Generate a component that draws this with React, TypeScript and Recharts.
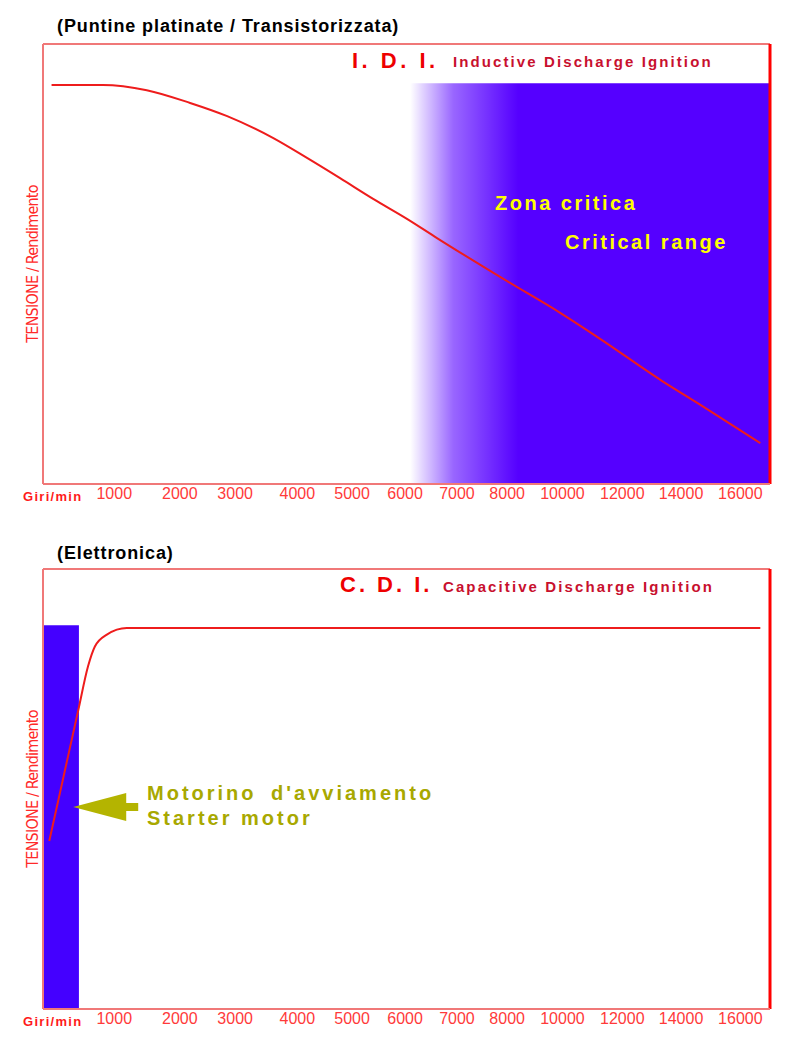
import React from 'react';
import {
  LineChart,
  Line,
  XAxis,
  YAxis,
  ReferenceArea,
  ReferenceLine,
  ReferenceDot,
} from 'recharts';

// x is the position on the (non linear) rpm scale, y is relative voltage / efficiency (0-100)
const tickPositions = [1.25, 2.4, 3.37, 4.46, 5.42, 6.35, 7.26, 8.14, 9.11, 10.16, 11.19, 12.23];
const tickLabels = ['1000', '2000', '3000', '4000', '5000', '6000', '7000', '8000', '10000', '12000', '14000', '16000'];

const idiX = [0.15, 1.05, 1.82, 2.58, 3.23, 4.04, 4.63, 5.21, 5.79, 6.39, 6.91, 8.14, 9.07, 9.77, 10.86, 11.53, 12.58];
const idiY = [90.7, 90.7, 89.5, 86.6, 83.6, 78.6, 74.1, 69.5, 64.8, 60.2, 55.9, 46.1, 38.9, 33.0, 23.4, 18.0, 9.3];

const cdiX = [0.11, 0.36, 0.62, 0.79, 0.91, 1.12, 1.47, 12.58];
const cdiY = [38.2, 52.8, 68.0, 77.9, 82.4, 85.1, 86.6, 86.6];

const criticalRange = [6.44, 12.75];
const criticalTop = 91.1;
const starterRange = [0, 0.63];
const starterTop = 87.2;
const starterArrow = { x: 0.53, y: 45.9 };

const idiData = idiX.map((x, i) => ({ x, v: idiY[i] }));
const cdiData = cdiX.map((x, i) => ({ x, v: cdiY[i] }));

const FONT = '"Liberation Sans", Arial, Helvetica, sans-serif';
const NARROW = '"Liberation Sans Narrow", "DejaVu Sans Condensed", sans-serif';
const X_MAX = 12.75;
const W = 800;
const H = 510;
const margin = { top: 44, right: 30, left: 22, bottom: 2 };

const tickFmt = (v: number) => {
  const i = tickPositions.indexOf(v);
  return i >= 0 ? tickLabels[i] : '';
};

const renderXAxis = () => (
  <XAxis
    type="number"
    dataKey="x"
    domain={[0, X_MAX]}
    ticks={tickPositions}
    interval={0}
    tickFormatter={tickFmt}
    tickLine={false}
    tickSize={0}
    tickMargin={4}
    height={24}
    axisLine={{ stroke: '#f07878', strokeWidth: 2 }}
    tick={{ fill: '#ff3a3a', fontSize: 16, fontFamily: FONT }}
    label={{
      value: 'Giri/min',
      position: 'insideLeft',
      offset: -20,
      fill: '#ff1a1a',
      fontSize: 13,
      fontWeight: 'bold',
      fontFamily: FONT,
      letterSpacing: 1.3,
    }}
  />
);

const renderYAxis = () => (
  <YAxis
    type="number"
    domain={[0, 100]}
    width={21}
    tick={false}
    axisLine={false}
    tickLine={false}
    label={{
      value: 'TENSIONE / Rendimento',
      angle: -90,
      position: 'center',
      fill: '#ff2a2a',
      fontSize: 16,
      letterSpacing: -0.8,
      fontFamily: NARROW,
    }}
  />
);

const renderFrame = () => [
  <ReferenceLine key="t" y={100} stroke="#f07878" strokeWidth={2} />,
  <ReferenceLine key="l" x={0} stroke="#f07878" strokeWidth={2} />,
  <ReferenceLine key="r" x={X_MAX} stroke="#ff0000" strokeWidth={3} />,
];

const titleStyle: React.CSSProperties = {
  position: 'absolute',
  left: 57,
  fontSize: 18,
  letterSpacing: 0.9,
  fontWeight: 'bold',
  color: '#000',
  whiteSpace: 'nowrap',
};

function App() {
  return (
    <div style={{ position: 'absolute', left: 0, top: 0, width: 800, height: 1038, background: '#fff', fontFamily: FONT }}>
      {/* I.D.I. chart */}
      <div style={{ position: 'absolute', left: 0, top: 0 }}>
        <LineChart width={W} height={H} margin={margin}>
          <defs>
            <linearGradient id="critGrad" x1="0" y1="0" x2="1" y2="0">
              <stop offset="0%" stopColor="#5500ff" stopOpacity={0} />
              <stop offset="12%" stopColor="#5500ff" stopOpacity={0.6} />
              <stop offset="30%" stopColor="#5500ff" stopOpacity={1} />
              <stop offset="100%" stopColor="#5500ff" stopOpacity={1} />
            </linearGradient>
          </defs>
          {renderXAxis()}
          {renderYAxis()}
          <ReferenceArea
            x1={criticalRange[0]}
            x2={criticalRange[1]}
            y1={0}
            y2={criticalTop}
            fill="url(#critGrad)"
            fillOpacity={1}
            stroke="none"
          />
          {renderFrame()}
          <Line
            data={idiData}
            dataKey="v"
            type="monotone"
            stroke="#ee1c1c"
            strokeWidth={2}
            dot={false}
            isAnimationActive={false}
          />
          <text x={352} y={68} fill="#ee0000" fontSize={22} fontWeight="bold" fontFamily={FONT} letterSpacing={3.5}>
            I. D. I.
          </text>
          <text x={453} y={67} fill="#c8102e" fontSize={15} fontWeight="bold" fontFamily={FONT} letterSpacing={2.1}>
            Inductive Discharge Ignition
          </text>
        </LineChart>
        <svg width={W} height={H} style={{ position: 'absolute', left: 0, top: 0, pointerEvents: 'none' }}>
          <text x={495} y={210} fill="#ffff00" fontSize={20} fontWeight="bold" fontFamily={FONT} letterSpacing={2.5}>
            Zona critica
          </text>
          <text x={565} y={249} fill="#ffff00" fontSize={20} fontWeight="bold" fontFamily={FONT} letterSpacing={2.5}>
            Critical range
          </text>
        </svg>
      </div>

      {/* C.D.I. chart */}
      <div style={{ position: 'absolute', left: 0, top: 525 }}>
        <LineChart width={W} height={H} margin={margin}>
          {renderXAxis()}
          {renderYAxis()}
          <ReferenceArea
            x1={starterRange[0]}
            x2={starterRange[1]}
            y1={0}
            y2={starterTop}
            fill="#4400ff"
            fillOpacity={1}
            stroke="none"
          />
          {renderFrame()}
          <Line
            data={cdiData}
            dataKey="v"
            type="monotone"
            stroke="#ee1c1c"
            strokeWidth={2}
            dot={false}
            isAnimationActive={false}
          />
          <ReferenceDot
            x={starterArrow.x}
            y={starterArrow.y}
            shape={(p: any) => {
              const { cx, cy } = p;
              const pts = [
                [cx, cy],
                [cx + 53, cy - 14],
                [cx + 53, cy - 4],
                [cx + 65, cy - 4],
                [cx + 65, cy + 4],
                [cx + 53, cy + 4],
                [cx + 53, cy + 14],
              ]
                .map((q) => q.join(','))
                .join(' ');
              return <polygon points={pts} fill="#b4b400" />;
            }}
          />
          <text x={340} y={67} fill="#ee0000" fontSize={22} fontWeight="bold" fontFamily={FONT} letterSpacing={3}>
            C. D. I.
          </text>
          <text x={443} y={67} fill="#c8102e" fontSize={15} fontWeight="bold" fontFamily={FONT} letterSpacing={2.1}>
            Capacitive Discharge Ignition
          </text>
          <text x={147} y={275} fill="#a8a800" fontSize={20} fontWeight="bold" fontFamily={FONT} letterSpacing={3} wordSpacing={6}>
            Motorino d'avviamento
          </text>
          <text x={147} y={300} fill="#a8a800" fontSize={20} fontWeight="bold" fontFamily={FONT} letterSpacing={3}>
            Starter motor
          </text>
        </LineChart>
      </div>

      <div style={{ ...titleStyle, top: 16 }}>(Puntine platinate / Transistorizzata)</div>
      <div style={{ ...titleStyle, top: 543 }}>(Elettronica)</div>
    </div>
  );
}

export default App;
